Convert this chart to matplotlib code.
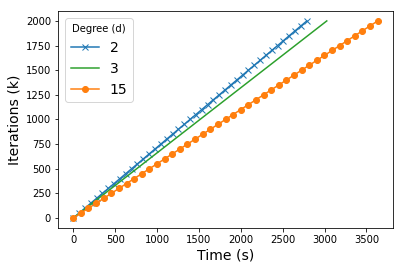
import numpy as np
import matplotlib.pyplot as plt

# iterations (k), logged every 50k
iters = [0, 50, 100, 150, 200, 250, 300, 350, 400, 450, 500, 550, 600, 650,
         700, 750, 800, 850, 900, 950, 1000, 1050, 1100, 1150, 1200, 1250,
         1300, 1350, 1400, 1450, 1500, 1550, 1600, 1650, 1700, 1750, 1800,
         1850, 1900, 1950, 2000]

# time (s) for degree 2
time_d2 = [0, 70, 140, 209, 279, 349, 418, 488, 558, 627, 697, 767, 837,
           906, 976, 1046, 1115, 1185, 1255, 1325, 1394, 1464, 1534, 1603,
           1673, 1743, 1813, 1882, 1952, 2022, 2091, 2161, 2231, 2300, 2370,
           2440, 2510, 2579, 2649, 2719, 2789]

# degree 3: plain line
iters_d3 = [0, 500, 1000, 1500, 2000]
time_d3 = [0, 757, 1513, 2270, 3027]

# time (s) for degree 15
time_d15 = [0, 91, 182, 273, 364, 454, 545, 636, 727, 818, 909, 1000, 1091,
            1181, 1272, 1363, 1454, 1545, 1636, 1727, 1818, 1908, 1999, 2090,
            2181, 2272, 2363, 2454, 2545, 2635, 2726, 2817, 2908, 2999, 3090,
            3181, 3272, 3362, 3453, 3544, 3635]

fig = plt.figure(figsize=(403 / 72, 270 / 72), dpi=72)
ax = fig.add_axes([0.144, 0.156, 0.831, 0.803])

ax.plot(time_d2, iters, marker='x', color='tab:blue', label='2')
ax.plot(time_d3, iters_d3, color='tab:green', label='3')
ax.plot(time_d15, iters, marker='o', color='tab:orange', label='15')

ax.set_xlabel('Time (s)', fontsize=14)
ax.set_ylabel('Iterations (k)', fontsize=14)
ax.set_xticks([0, 500, 1000, 1500, 2000, 2500, 3000, 3500])
ax.set_yticks([0, 250, 500, 750, 1000, 1250, 1500, 1750, 2000])
ax.legend(title='Degree (d)', fontsize=14, loc='upper left')

fig.savefig('out.png', dpi=72)
